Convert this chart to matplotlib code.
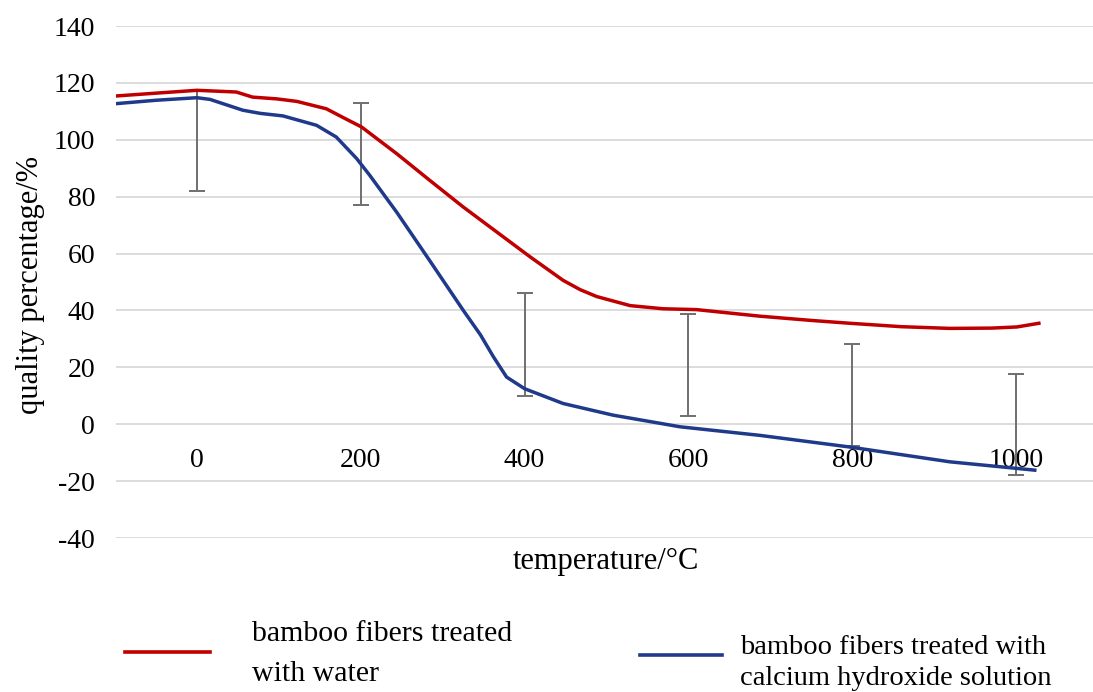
import matplotlib
matplotlib.use("Agg")
import matplotlib.pyplot as plt
from matplotlib.lines import Line2D

# red curve: bamboo fibers treated with water
water_t = [-99, -50, 0, 48, 68, 97, 122, 158, 178, 201, 244, 284, 325, 366,
           407, 447, 468, 488, 529, 569, 610, 687, 750, 797, 860, 919, 970,
           1001, 1030]
water_q = [115.4, 116.4, 117.4, 116.8, 115.0, 114.4, 113.5, 110.9, 107.9, 104.5,
           95.1, 85.8, 76.4, 67.6, 58.8, 50.6, 47.3, 44.9, 41.7, 40.6, 40.3,
           38.0, 36.5, 35.5, 34.3, 33.7, 33.8, 34.2, 35.6]

# blue curve: bamboo fibers treated with calcium hydroxide solution
lime_t = [-99, -50, 0, 16, 56, 77, 105, 146, 170, 195, 211, 244, 284, 325,
          346, 362, 378, 400, 447, 508, 590, 687, 797, 919, 1025]
lime_q = [112.7, 113.9, 114.8, 114.2, 110.4, 109.3, 108.4, 105.1, 101.0, 93.4,
          87.5, 74.5, 57.6, 40.1, 31.5, 23.7, 16.6, 12.5, 7.3, 3.2, -0.9,
          -3.9, -8.0, -13.2, -16.2]

# error bars
err_t = [0, 200, 400, 600, 800, 1000]
err_mid = [99.8, 95.0, 28.0, 20.8, 10.2, -0.2]
err_half = [17.8, 18.0, 18.0, 18.0, 18.0, 17.8]

xticks = [0, 200, 400, 600, 800, 1000]
yticks = [-40, -20, 0, 20, 40, 60, 80, 100, 120, 140]

plt.rcParams['font.family'] = ['Liberation Serif', 'DejaVu Serif']
plt.rcParams['axes.unicode_minus'] = False

fig = plt.figure(figsize=(10.93, 6.92), dpi=100)
ax = fig.add_axes([0.106, 0.2225, 0.894, 0.7399])

for y in yticks:
    ax.axhline(y, color='#d9d9d9', lw=1.3, zorder=0)

ax.errorbar(err_t, err_mid, yerr=err_half, fmt='none', ecolor='#6f6f6f',
            elinewidth=1.4, capsize=6, capthick=1.4, zorder=2)
ax.plot(water_t, water_q, color='#c00000', lw=2.5, zorder=3,
        solid_capstyle='butt', solid_joinstyle='round')
ax.plot(lime_t, lime_q, color='#1f3a8a', lw=2.5, zorder=3,
        solid_capstyle='butt', solid_joinstyle='round')

ax.set_xlim(-99, 1094)
ax.set_ylim(-40, 140)
ax.set_yticks(yticks)
ax.set_xticks(xticks)
ax.spines['bottom'].set_position(('data', 0))
for s in ax.spines.values():
    s.set_visible(False)
ax.tick_params(axis='both', length=0, labelsize=20, colors='black')
ax.tick_params(axis='y', pad=15)
ax.tick_params(axis='x', pad=17)

fig.text(31/1093, 1-285/692, 'quality percentage/%', fontsize=22,
         rotation=90, ha='center', va='center')
fig.text(606/1093, 1-562/692, 'temperature/\u00b0C', fontsize=22,
         ha='center', va='center')

# legend
fig.add_artist(Line2D([125/1093, 210/1093], [1-652/692, 1-652/692],
                      color='#c00000', lw=2.6, transform=fig.transFigure))
fig.text(252/1093, 1-654/692, 'bamboo fibers treated\nwith water',
         fontsize=21.5, ha='left', va='center', linespacing=1.7)
fig.add_artist(Line2D([640/1093, 722/1093], [1-655/692, 1-655/692],
                      color='#1f3a8a', lw=2.6, transform=fig.transFigure))
fig.text(740/1093, 1-663/692,
         'bamboo fibers treated with\ncalcium hydroxide solution',
         fontsize=20.5, ha='left', va='center', linespacing=1.35)

fig.savefig('out.png', dpi=100)
